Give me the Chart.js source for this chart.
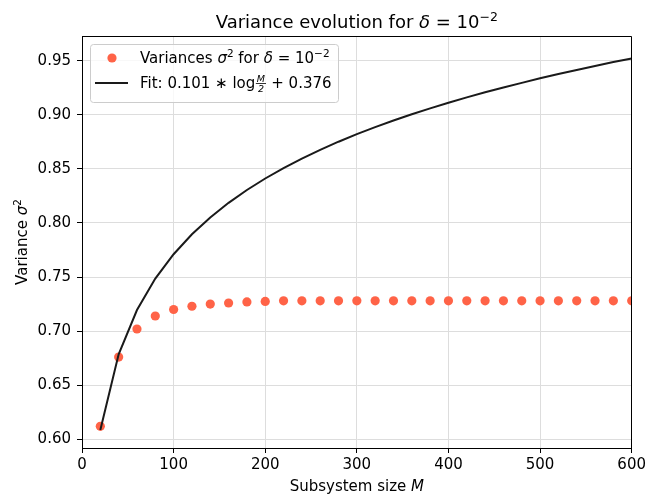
<!DOCTYPE html>
<html>
<head>
<meta charset="utf-8">
<script src="https://cdn.jsdelivr.net/npm/chart.js@4.4.0/dist/chart.umd.min.js"></script>
<style>
  body { margin: 0; background: #fff; }
  canvas { display: block; }
</style>
</head>
<body>
<canvas id="chart" width="649" height="495"></canvas>
<script>
// subsystem sizes M
var sizes = [20, 40, 60, 80, 100, 120, 140, 160, 180, 200, 220, 240, 260, 280, 300,
             320, 340, 360, 380, 400, 420, 440, 460, 480, 500, 520, 540, 560, 580, 600];
// measured variances (red dots)
var variances = [0.612, 0.676, 0.702, 0.714, 0.720, 0.723, 0.725, 0.726, 0.727, 0.7275,
                 0.728, 0.728, 0.728, 0.728, 0.728, 0.728, 0.728, 0.728, 0.728, 0.728,
                 0.728, 0.728, 0.728, 0.728, 0.728, 0.728, 0.728, 0.728, 0.728, 0.728];
// fit curve
var fitValues = [0.6086, 0.6786, 0.7195, 0.7486, 0.7711, 0.7895, 0.8051, 0.8186, 0.8305, 0.8411,
                 0.8507, 0.8595, 0.8676, 0.8751, 0.8821, 0.8886, 0.8947, 0.9005, 0.9059, 0.9111,
                 0.9161, 0.9208, 0.9252, 0.9295, 0.9337, 0.9376, 0.9414, 0.9451, 0.9487, 0.9521];
var xTicks = [0, 100, 200, 300, 400, 500, 600];
var yTicks = [0.60, 0.65, 0.70, 0.75, 0.80, 0.85, 0.90, 0.95];

var FONT = '"DejaVu Sans", sans-serif';
var DOT = '#ff6347';
var LINE = '#1a1a1a';

function runWidth(ctx, runs) {
  var w = 0;
  runs.forEach(function (r) {
    ctx.font = r.f;
    if (r.frac) {
      w += Math.max(ctx.measureText(r.num).width, ctx.measureText(r.den).width) + 3;
    } else {
      w += ctx.measureText(r.t).width;
    }
  });
  return w;
}

// draw a row of text pieces with their own fonts / vertical shifts
function drawRuns(ctx, runs, x, y, align) {
  var w = runWidth(ctx, runs);
  var cx = align === 'center' ? x - w / 2 : x;
  ctx.textAlign = 'left';
  ctx.textBaseline = 'alphabetic';
  ctx.fillStyle = '#000';
  runs.forEach(function (r) {
    ctx.font = r.f;
    if (r.frac) {
      var nw = ctx.measureText(r.num).width, dw = ctx.measureText(r.den).width;
      var fw = Math.max(nw, dw) + 3;
      ctx.fillText(r.num, cx + (fw - nw) / 2, y - 6.5);
      ctx.fillRect(cx + 0.5, y - 5, fw - 1, 0.8);
      ctx.fillText(r.den, cx + (fw - dw) / 2, y + 3.5);
      cx += fw;
    } else {
      ctx.fillText(r.t, cx, y + (r.dy || 0));
      cx += ctx.measureText(r.t).width;
    }
  });
}

var n15 = '15px ' + FONT, i15 = 'italic 15px ' + FONT, s11 = '10.5px ' + FONT;

var textPlugin = {
  id: 'texts',
  afterDraw: function (chart) {
    var ctx = chart.ctx, a = chart.chartArea;
    ctx.save();
    // top and right frame
    ctx.strokeStyle = '#000';
    ctx.lineWidth = 1;
    ctx.beginPath();
    ctx.moveTo(Math.round(a.left) + 0.5, Math.round(a.top) + 0.5);
    ctx.lineTo(Math.round(a.right) - 0.5, Math.round(a.top) + 0.5);
    ctx.lineTo(Math.round(a.right) - 0.5, Math.round(a.bottom));
    ctx.stroke();

    var midX = (a.left + a.right) / 2, midY = (a.top + a.bottom) / 2;

    // title
    drawRuns(ctx, [
      { t: 'Variance evolution for ', f: '18px ' + FONT },
      { t: 'δ', f: 'italic 18px ' + FONT },
      { t: ' = 10', f: '18px ' + FONT },
      { t: '−2', f: '12.5px ' + FONT, dy: -7.5 }
    ], midX, 28, 'center');

    // x axis title
    drawRuns(ctx, [
      { t: 'Subsystem size ', f: n15 },
      { t: 'M', f: i15 }
    ], midX, 491, 'center');

    // y axis title
    ctx.save();
    ctx.translate(27, midY);
    ctx.rotate(-Math.PI / 2);
    drawRuns(ctx, [
      { t: 'Variance ', f: n15 },
      { t: 'σ', f: i15 },
      { t: '2', f: s11, dy: -6.5 }
    ], 0, 0, 'center');
    ctx.restore();

    // legend box
    ctx.beginPath();
    ctx.roundRect(90.5, 44.5, 248, 58, 3);
    ctx.fillStyle = 'rgba(255,255,255,0.8)';
    ctx.fill();
    ctx.strokeStyle = '#cccccc';
    ctx.lineWidth = 1;
    ctx.stroke();

    ctx.beginPath();
    ctx.arc(112, 58, 4.6, 0, Math.PI * 2);
    ctx.fillStyle = DOT;
    ctx.fill();

    ctx.beginPath();
    ctx.moveTo(95, 83);
    ctx.lineTo(128, 83);
    ctx.strokeStyle = LINE;
    ctx.lineWidth = 2;
    ctx.stroke();

    drawRuns(ctx, [
      { t: 'Variances ', f: n15 },
      { t: 'σ', f: i15 },
      { t: '2', f: s11, dy: -6.5 },
      { t: ' for ', f: n15 },
      { t: 'δ', f: i15 },
      { t: ' = 10', f: n15 },
      { t: '−2', f: s11, dy: -6.5 }
    ], 140, 63, 'left');

    drawRuns(ctx, [
      { t: 'Fit: 0.101 ∗ log', f: n15 },
      { frac: true, num: 'M', den: '2', f: 'italic 9.5px ' + FONT },
      { t: ' + 0.376', f: n15 }
    ], 140, 88, 'left');

    ctx.restore();
  }
};

function pts(ys) {
  return sizes.map(function (m, i) { return { x: m, y: ys[i] }; });
}

new Chart(document.getElementById('chart'), {
  type: 'scatter',
  data: {
    datasets: [{
      data: pts(fitValues),
      showLine: true,
      borderColor: LINE,
      borderWidth: 2,
      pointRadius: 0,
      fill: false,
      order: 0
    }, {
      data: pts(variances),
      showLine: false,
      backgroundColor: DOT,
      borderWidth: 0,
      pointRadius: 4.6,
      order: 1
    }]
  },
  options: {
    responsive: false,
    animation: false,
    devicePixelRatio: 1,
    layout: { padding: { left: 0, right: 16, top: 36, bottom: 0 } },
    plugins: { legend: { display: false }, tooltip: { enabled: false } },
    scales: {
      x: {
        type: 'linear',
        min: 0,
        max: 600,
        afterBuildTicks: function (s) { s.ticks = xTicks.map(function (v) { return { value: v }; }); },
        afterFit: function (s) { s.height = 47; },
        ticks: { color: '#000', font: { family: FONT, size: 15 }, padding: 3, maxRotation: 0 },
        grid: { color: '#dddddd', tickColor: '#000', tickLength: 5, lineWidth: 1 },
        border: { color: '#000', width: 1 }
      },
      y: {
        min: 0.592,
        max: 0.9728,
        afterBuildTicks: function (s) { s.ticks = yTicks.map(function (v) { return { value: v }; }); },
        afterFit: function (s) { s.width = 82; },
        ticks: {
          color: '#000', font: { family: FONT, size: 15 }, padding: 6,
          callback: function (v) { return v.toFixed(2); }
        },
        grid: { color: '#dddddd', tickColor: '#000', tickLength: 5, lineWidth: 1 },
        border: { color: '#000', width: 1 }
      }
    }
  },
  plugins: [textPlugin]
});
</script>
</body>
</html>
